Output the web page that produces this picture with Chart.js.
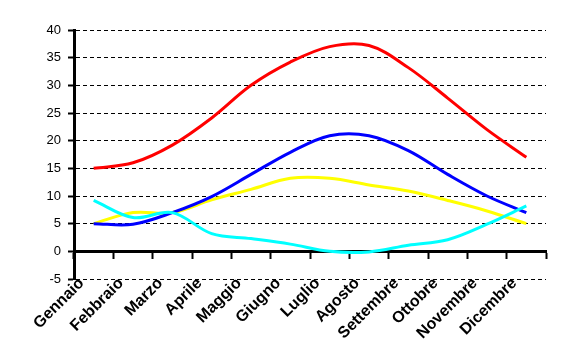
<!DOCTYPE html>
<html><head><meta charset="utf-8">
<script src="https://cdn.jsdelivr.net/npm/chart.js@4/dist/chart.umd.min.js"></script>
<style>html,body{margin:0;padding:0;background:#fff;}#wrap{width:563px;height:362px;}</style>
</head><body><div id="wrap"><canvas id="c" width="563" height="362"></canvas></div>
<script>
const mesi = ['Gennaio','Febbraio','Marzo','Aprile','Maggio','Giugno','Luglio','Agosto','Settembre','Ottobre','Novembre','Dicembre'];
const serieRossa = [15.0, 16.0, 19.2, 24.1, 30.0, 34.2, 37.0, 37.2, 33.2, 27.7, 22.0, 17.0];
const serieBlu = [5.0, 4.9, 7.0, 9.9, 13.9, 17.9, 20.9, 20.9, 18.2, 13.9, 10.0, 7.0];
const serieGialla = [5.0, 7.0, 7.0, 9.3, 11.2, 13.2, 13.2, 12.0, 10.9, 9.2, 7.3, 5.0];
const serieCiano = [9.2, 6.1, 7.0, 3.2, 2.3, 1.3, 0.0, -0.1, 1.1, 2.1, 4.9, 8.2];
const yMin = -5, yMax = 40, yStep = 5;

const FONT = '"Liberation Sans", Arial, sans-serif';
new Chart(document.getElementById('c'), {
  type: 'line',
  data: {
    labels: mesi,
    datasets: [
      {label: 'Serie4', data: serieCiano, borderColor: '#00FFFF', order: 1},
      {label: 'Serie2', data: serieBlu, borderColor: '#0000FF', order: 2},
      {label: 'Serie3', data: serieGialla, borderColor: '#FFFF00', order: 3},
      {label: 'Serie1', data: serieRossa, borderColor: '#FF0000', order: 4}
    ]
  },
  options: {
    responsive: false,
    animation: false,
    devicePixelRatio: 1,
    layout: {padding: {top: 30, right: 17, left: 0, bottom: 0}},
    plugins: {legend: {display: false}, tooltip: {enabled: false}},
    elements: {point: {radius: 0}, line: {borderWidth: 3, tension: 0.35, fill: false}},
    scales: {
      x: {
        type: 'category', offset: true,
        grid: {display: false}, border: {display: false},
        ticks: {color: '#000', font: {family: FONT, size: 16, weight: 'bold'},
          minRotation: 45, maxRotation: 45, padding: -13, labelOffset: -12, autoSkip: false},
        afterFit: s => { s.height = 83; }
      },
      x2: {
        type: 'category', axis: 'x', position: {y: 0}, offset: true,
        grid: {display: true, offset: true, drawOnChartArea: false, drawTicks: true,
          tickLength: 6, tickWidth: 2, tickColor: '#000', tickBorderDash: []},
        border: {display: true, color: '#000', width: 3},
        ticks: {display: false}
      },
      y: {
        min: yMin, max: yMax,
        ticks: {stepSize: yStep, color: '#000', font: {family: FONT, size: 13}, padding: 7},
        grid: {color: c => (c.tick && c.tick.value === 0) ? 'rgba(0,0,0,0)' : '#000',
          lineWidth: 1, tickColor: '#000', tickWidth: 2, tickLength: 6, tickBorderDash: []},
        border: {display: true, color: '#000', width: 3, dash: [4, 3]},
        afterFit: s => { s.width = 74; }
      }
    }
  }
});
</script></body></html>
